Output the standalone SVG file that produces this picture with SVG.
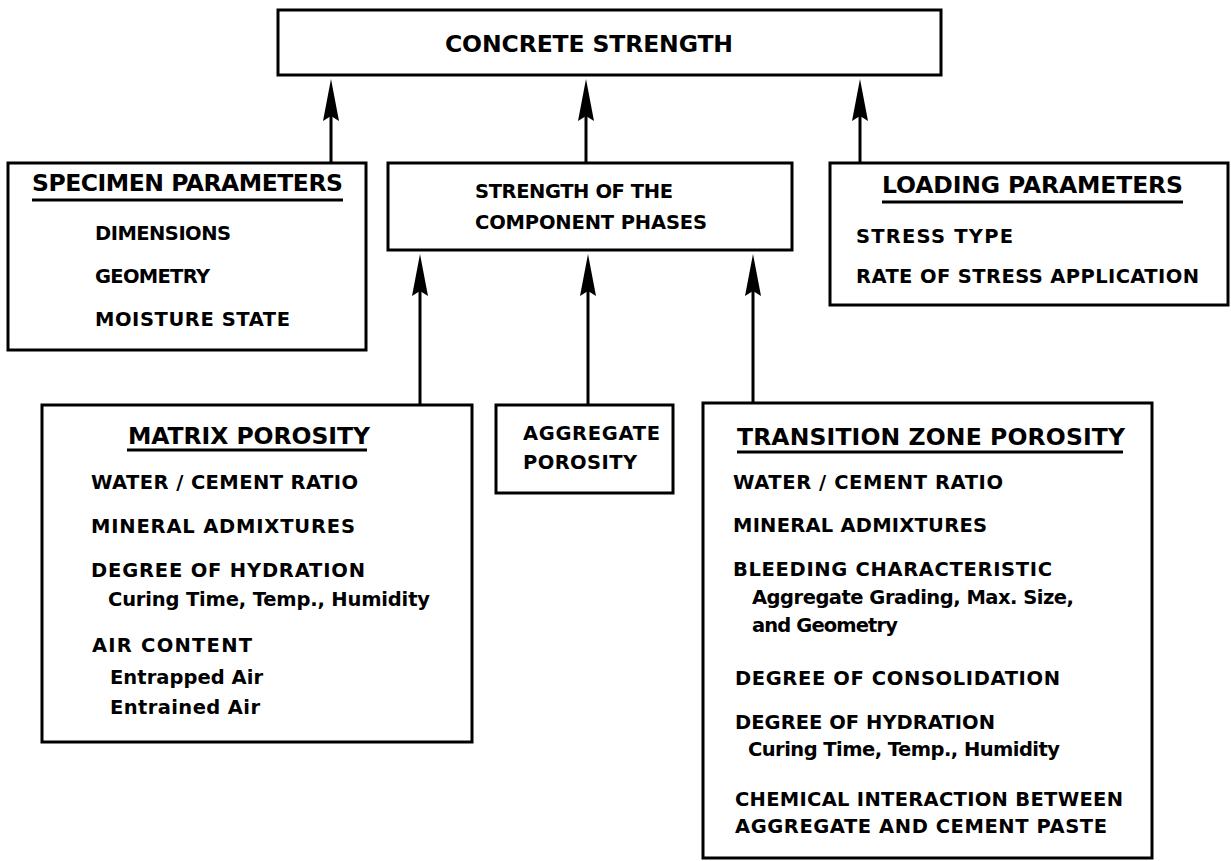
<svg xmlns="http://www.w3.org/2000/svg" width="1231" height="861" viewBox="0 0 1231 861">
<style>
  .box { fill: #ffffff; stroke: #000000; stroke-width: 3; }
  .t { font-family: "DejaVu Sans", "Liberation Sans", sans-serif; font-weight: bold; fill: #000000; font-size: 19.5px; }
  .h { font-size: 23.5px; }
  .ul { stroke: #000000; stroke-width: 3; }
  .conn { stroke: #000000; stroke-width: 3; fill: none; marker-end: url(#arrow); }
</style>
<defs>
  <marker id="arrow" markerUnits="userSpaceOnUse" viewBox="0 0 42 16" refX="22" refY="8" markerWidth="42" markerHeight="16" orient="auto">
    <path d="M0,0 L42,8 L0,16 L5,8 Z" fill="#000000"/>
  </marker>
</defs>
<rect width="1231" height="861" fill="#ffffff"/>

<g id="concrete-strength">
  <rect class="box" x="278" y="10" width="663" height="65"/>
  <text class="t h" x="445" y="52" textLength="288" lengthAdjust="spacing">CONCRETE STRENGTH</text>
</g>

<g id="specimen-parameters">
  <rect class="box" x="8" y="163" width="358" height="187"/>
  <text class="t h" x="32" y="191" textLength="311" lengthAdjust="spacing">SPECIMEN PARAMETERS</text>
  <line class="ul" x1="32" y1="200" x2="343" y2="200"/>
  <text class="t" x="95" y="240" textLength="136" lengthAdjust="spacing">DIMENSIONS</text>
  <text class="t" x="95" y="283" textLength="115" lengthAdjust="spacing">GEOMETRY</text>
  <text class="t" x="95" y="326" textLength="195" lengthAdjust="spacing">MOISTURE STATE</text>
</g>

<g id="component-phases">
  <rect class="box" x="388" y="163" width="404" height="87"/>
  <text class="t" x="475" y="198" textLength="198" lengthAdjust="spacing">STRENGTH OF THE</text>
  <text class="t" x="475" y="229" textLength="232" lengthAdjust="spacing">COMPONENT PHASES</text>
</g>

<g id="loading-parameters">
  <rect class="box" x="830" y="163" width="398" height="142"/>
  <text class="t h" x="882" y="193" textLength="301" lengthAdjust="spacing">LOADING PARAMETERS</text>
  <line class="ul" x1="882" y1="202" x2="1183" y2="202"/>
  <text class="t" x="856" y="243" textLength="157" lengthAdjust="spacing">STRESS TYPE</text>
  <text class="t" x="856" y="283" textLength="343" lengthAdjust="spacing">RATE OF STRESS APPLICATION</text>
</g>

<g id="matrix-porosity">
  <rect class="box" x="42" y="405" width="430" height="337"/>
  <text class="t h" x="128" y="444" textLength="242" lengthAdjust="spacing">MATRIX POROSITY</text>
  <line class="ul" x1="127" y1="450" x2="367" y2="450"/>
  <text class="t" x="91" y="489" textLength="267" lengthAdjust="spacing">WATER / CEMENT RATIO</text>
  <text class="t" x="91" y="533" textLength="264" lengthAdjust="spacing">MINERAL ADMIXTURES</text>
  <text class="t" x="91" y="577" textLength="274" lengthAdjust="spacing">DEGREE OF HYDRATION</text>
  <text class="t" x="108" y="606" textLength="322" lengthAdjust="spacing">Curing Time, Temp., Humidity</text>
  <text class="t" x="92" y="652" textLength="160" lengthAdjust="spacing">AIR CONTENT</text>
  <text class="t" x="110" y="684" textLength="153" lengthAdjust="spacing">Entrapped Air</text>
  <text class="t" x="110" y="714" textLength="150" lengthAdjust="spacing">Entrained Air</text>
</g>

<g id="aggregate-porosity">
  <rect class="box" x="496" y="405" width="177" height="88"/>
  <text class="t" x="523" y="440" textLength="137" lengthAdjust="spacing">AGGREGATE</text>
  <text class="t" x="523" y="469" textLength="114" lengthAdjust="spacing">POROSITY</text>
</g>

<g id="transition-zone-porosity">
  <rect class="box" x="703" y="403" width="449" height="455"/>
  <text class="t h" x="737" y="445" textLength="388" lengthAdjust="spacing">TRANSITION ZONE POROSITY</text>
  <line class="ul" x1="737" y1="452" x2="1123" y2="452"/>
  <text class="t" x="733" y="489" textLength="270" lengthAdjust="spacing">WATER / CEMENT RATIO</text>
  <text class="t" x="733" y="532" textLength="254" lengthAdjust="spacing">MINERAL ADMIXTURES</text>
  <text class="t" x="733" y="576" textLength="319" lengthAdjust="spacing">BLEEDING CHARACTERISTIC</text>
  <text class="t" x="752" y="604" textLength="322" lengthAdjust="spacing">Aggregate Grading, Max. Size,</text>
  <text class="t" x="752" y="632" textLength="146" lengthAdjust="spacing">and Geometry</text>
  <text class="t" x="735" y="685" textLength="325" lengthAdjust="spacing">DEGREE OF CONSOLIDATION</text>
  <text class="t" x="735" y="729" textLength="260" lengthAdjust="spacing">DEGREE OF HYDRATION</text>
  <text class="t" x="748" y="756" textLength="312" lengthAdjust="spacing">Curing Time, Temp., Humidity</text>
  <text class="t" x="735" y="806" textLength="388" lengthAdjust="spacing">CHEMICAL INTERACTION BETWEEN</text>
  <text class="t" x="735" y="833" textLength="372" lengthAdjust="spacing">AGGREGATE AND CEMENT PASTE</text>
</g>

<g id="connectors">
  <line class="conn" x1="331" y1="163" x2="331" y2="99"/>
  <line class="conn" x1="586" y1="163" x2="586" y2="99"/>
  <line class="conn" x1="860" y1="163" x2="860" y2="99"/>
  <line class="conn" x1="420" y1="405" x2="420" y2="274"/>
  <line class="conn" x1="588" y1="405" x2="588" y2="274"/>
  <line class="conn" x1="753" y1="403" x2="753" y2="274"/>
</g>
</svg>
